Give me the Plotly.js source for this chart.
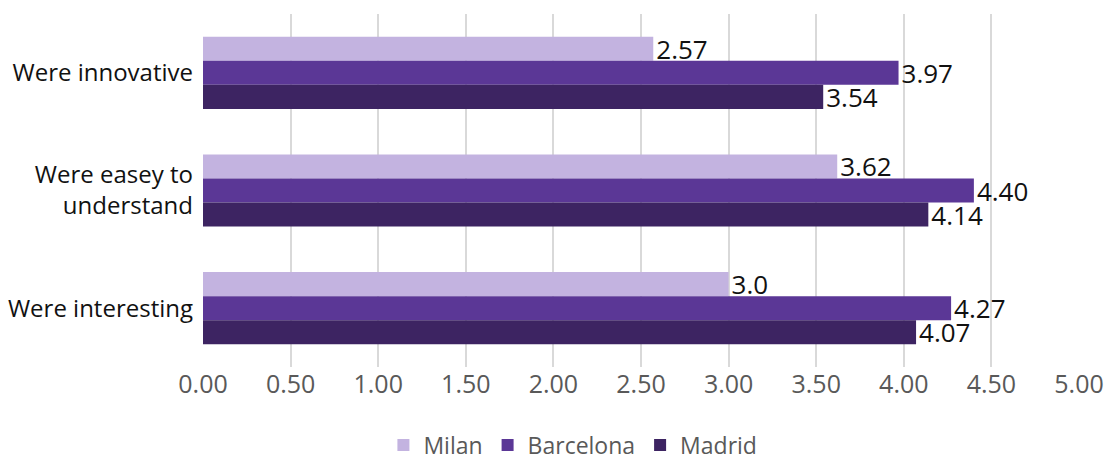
<!DOCTYPE html>
<html>
<head>
<meta charset="utf-8">
<script src="https://cdn.plot.ly/plotly-3.0.1.min.js"></script>
<style>
html,body{margin:0;padding:0;background:#fff;}
#chart{width:1106px;height:460px;}
</style>
</head>
<body>
<div id="chart"></div>
<script>
const categories = ["Were innovative", "Were easey to<br>understand", "Were interesting"];
const seriesNames = ["Milan", "Barcelona", "Madrid"];
const milan = [2.57, 3.62, 3.0];
const barcelona = [3.97, 4.40, 4.27];
const madrid = [3.54, 4.14, 4.07];
const milanLabels = ["2.57", "3.62", "3.0"];
const barcelonaLabels = ["3.97", "4.40", "4.27"];
const madridLabels = ["3.54", "4.14", "4.07"];
const tickVals = [0, 0.5, 1, 1.5, 2, 2.5, 3, 3.5, 4, 4.5, 5];
const tickText = ["0.00", "0.50", "1.00", "1.50", "2.00", "2.50", "3.00", "3.50", "4.00", "4.50", "5.00"];

const colors = ["#C3B3E0", "#5B3796", "#3D2462"];
const values = [milan, barcelona, madrid];
const labels = [milanLabels, barcelonaLabels, madridLabels];

const traces = seriesNames.map((name, i) => ({
  type: "bar",
  orientation: "h",
  name: name,
  x: values[i],
  y: categories,
  text: labels[i],
  texttemplate: "%{text}",
  textposition: "outside",
  constraintext: "none",
  cliponaxis: false,
  textfont: {family: "Open Sans, sans-serif", size: 26, color: "#111"},
  marker: {color: colors[i], line: {width: 0}},
  hoverinfo: "none"
}));

const layout = {
  width: 1106,
  height: 460,
  margin: {l: 203, r: 27, t: 14, b: 93, autoexpand: false},
  paper_bgcolor: "#fff",
  plot_bgcolor: "#fff",
  barmode: "group",
  bargap: 0.387,
  bargroupgap: 0,
  font: {family: "Open Sans, sans-serif"},
  xaxis: {
    range: [0, 5],
    tickvals: tickVals,
    ticktext: tickText,
    showgrid: true,
    gridcolor: "#D9D9D9",
    gridwidth: 2,
    zeroline: false,
    showline: false,
    ticks: "",
    automargin: false,
    tickfont: {family: "Open Sans, sans-serif", size: 25, color: "#595959"},
    fixedrange: true
  },
  yaxis: {
    autorange: "reversed",
    showgrid: false,
    zeroline: false,
    showline: false,
    ticks: "",
    automargin: false,
    ticklabelstandoff: 9,
    tickfont: {family: "Open Sans, sans-serif", size: 24, color: "#111"},
    fixedrange: true
  },
  showlegend: true,
  legend: {
    orientation: "h",
    xref: "container",
    x: 0.518,
    xanchor: "center",
    y: -0.16,
    yanchor: "top",
    traceorder: "normal",
    font: {family: "Open Sans, sans-serif", size: 23, color: "#595959"},
    itemwidth: 30
  }
};

Plotly.newPlot("chart", traces, layout, {displayModeBar: false, staticPlot: true});
</script>
</body>
</html>
